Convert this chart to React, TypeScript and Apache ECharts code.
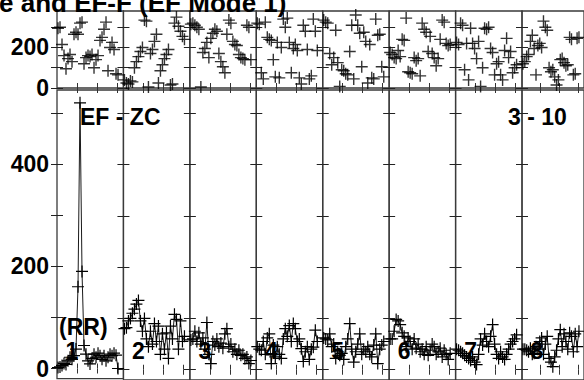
import React, { useEffect, useRef } from "react";
import * as echarts from "echarts";

// Segment labels (one column per segment)
const segmentLabels = ["1", "2", "3", "4", "5", "6", "7", "8"];

// Top panel: phase-like scatter values per segment (31 samples each)
const phase1 = [295, 300, 215, 160, 95, 145, 165, 130, 265, 275, 265, 320, 325, 120, 150, 160, 155, 165, 100, 140, 160, 235, 250, 290, 325, 85, 200, 225, 190, 70, 65];
const phase2 = [40, 25, 20, 35, 30, 100, 130, 155, 180, 200, 335, 330, 5, 170, 190, 230, 265, 25, 85, 115, 145, 165, 190, 15, 20, 320, 350, 305, 280, 255, 240];
const phase3 = [315, 320, 310, 300, 290, 5, 175, 195, 225, 150, 245, 270, 290, 280, 170, 130, 105, 75, 265, 335, 320, 230, 215, 210, 165, 150, 145, 140, 310, 300, 140];
const phase4 = [320, 315, 75, 45, 325, 250, 240, 235, 140, 55, 225, 50, 200, 340, 300, 345, 225, 75, 195, 215, 185, 50, 20, 310, 280, 190, 45, 60, 340, 280, 185];
const phase5 = [335, 325, 320, 170, 115, 150, 285, 125, 8, 90, 85, 70, 65, 180, 310, 45, 360, 310, 270, 105, 275, 230, 25, 215, 50, 45, 340, 260, 265, 105, 55];
const phase6 = [175, 165, 150, 145, 185, 155, 240, 235, 345, 80, 75, 70, 150, 135, 145, 60, 320, 290, 275, 180, 255, 170, 150, 110, 145, 240, 335, 325, 220, 210, 215];
const phase7 = [225, 215, 320, 310, 90, 220, 40, 295, 220, 195, 145, 230, 8, 100, 295, 290, 300, 195, 175, 65, 120, 130, 65, 40, 185, 245, 150, 180, 75, 100, 115];
const phase8 = [120, 130, 155, 165, 230, 260, 195, 65, 210, 220, 200, 330, 300, 285, 100, 80, 90, 55, 15, 40, 140, 145, 125, 110, 115, 250, 240, 65, 70, 245, 250];

// Bottom panel: amplitude values per segment (31 samples each)
const amp1 = [2, 3, 6, 10, 8, 15, 22, 18, 25, 38, 160, 520, 190, 45, 28, 15, 9, 20, 28, 22, 30, 25, 18, 25, 15, 22, 28, 25, 30, 26, 0];
const amp2 = [80, 82, 95, 100, 110, 118, 128, 135, 95, 75, 100, 60, 45, 75, 50, 90, 55, 85, 30, 70, 40, 72, 22, 85, 60, 108, 98, 40, 95, 55, 65];
const amp3 = [58, 60, 75, 55, 72, 50, 62, 40, 92, 30, 12, 55, 48, 60, 45, 52, 42, 70, 80, 45, 50, 35, 40, 30, 38, 28, 30, 22, 25, 12, 18];
const amp4 = [45, 40, 38, 55, 30, 62, 70, 12, 48, 25, 45, 30, 22, 60, 80, 65, 86, 55, 90, 80, 55, 60, 41, 16, 35, 45, 20, 40, 44, 77, 55];
const amp5 = [62, 60, 58, 70, 45, 50, 22, 35, 28, 32, 20, 45, 60, 90, 40, 15, 35, 50, 70, 30, 40, 35, 45, 30, 25, 48, 70, 12, 40, 48, 55];
const amp6 = [60, 60, 75, 98, 95, 88, 72, 65, 45, 62, 55, 40, 60, 42, 50, 35, 40, 30, 45, 28, 38, 50, 45, 30, 35, 42, 25, 38, 30, 20, 32];
const amp7 = [40, 38, 35, 32, 28, 25, 22, 18, 25, 15, 10, 30, 60, 48, 70, 55, 45, 65, 88, 50, 30, 22, 35, 25, 20, 30, 40, 50, 55, 60, 68];
const amp8 = [40, 40, 38, 35, 42, 30, 32, 45, 40, 55, 62, 30, 50, 65, 22, 15, 6, 25, 38, 60, 78, 45, 70, 55, 40, 72, 65, 35, 70, 45, 75];

const phaseSeries = [phase1, phase2, phase3, phase4, phase5, phase6, phase7, phase8];
const ampSeries = [amp1, amp2, amp3, amp4, amp5, amp6, amp7, amp8];

// Tick values and tick labels
const xTicks = [10, 20, 30];
const topTicks = [0, 100, 200, 300];
const topTickLabels = [0, 200];
const bottomTicks = [0, 100, 200, 300, 400, 500];
const bottomTickLabels = [0, 200, 400];

const titleText = "e and EF-F (EF Mode 1)";
const leftNote = "EF - ZC";
const rightNote = "3 - 10";
const rrNote = "(RR)";

const FONT = "'Liberation Sans', Arial, Helvetica, sans-serif";
const CROSS = "path://M0,6L12,6M6,0L6,12";

export default function App() {
  const ref = useRef<HTMLDivElement>(null);

  useEffect(() => {
    if (!ref.current) return;
    const chart = echarts.init(ref.current, null, { renderer: "svg" });

    const LEFT0 = 57;
    const SEG_W = 66.43;
    const nSeg = segmentLabels.length;
    const borderColor = "#3a3a3a";

    const grid: any[] = [];
    const xAxis: any[] = [];
    const yAxis: any[] = [];
    const series: any[] = [];

    const mkX = (g: number, pos: string) => ({
      gridIndex: g,
      type: "value",
      min: 0,
      max: 33.2,
      position: pos,
      axisLine: { show: false },
      axisTick: {
        show: true,
        inside: true,
        length: 5,
        customValues: xTicks,
        lineStyle: { color: "#333", width: 1 },
      },
      axisLabel: { show: false, customValues: xTicks },
      splitLine: { show: false },
    });

    const mkY = (
      g: number,
      pos: string,
      min: number,
      max: number,
      showLabel: boolean,
      ticks: number[],
      labels: number[]
    ) => ({
      gridIndex: g,
      type: "value",
      min,
      max,
      position: pos,
      axisLine: { show: false },
      axisTick: {
        show: true,
        inside: true,
        length: 6,
        customValues: ticks,
        lineStyle: { color: "#222", width: 1 },
      },
      axisLabel: {
        show: showLabel,
        customValues: labels,
        margin: 8,
        fontSize: 23,
        fontWeight: "bold",
        fontFamily: FONT,
        color: "#000",
      },
      splitLine: { show: false },
    });

    for (let row = 0; row < 2; row++) {
      for (let i = 0; i < nSeg; i++) {
        const g = row * nSeg + i;
        const isTop = row === 0;
        grid.push({
          left: LEFT0 + i * SEG_W,
          top: isTop ? 11 : 90,
          width: SEG_W,
          height: isTop ? 77 : 290,
          show: true,
          borderColor,
          borderWidth: 1.3,
          backgroundColor: "transparent",
        });
        xAxis.push(mkX(g, "bottom"));
        xAxis.push(mkX(g, "top"));
        const min = isTop ? 0 : -20;
        const max = isTop ? 380 : 545;
        const ticks = isTop ? topTicks : bottomTicks;
        const labels = isTop ? topTickLabels : bottomTickLabels;
        yAxis.push(mkY(g, "left", min, max, i === 0, ticks, labels));
        yAxis.push(mkY(g, "right", min, max, false, ticks, labels));

        if (isTop) {
          series.push({
            type: "scatter",
            xAxisIndex: 2 * g,
            yAxisIndex: 2 * g,
            data: phaseSeries[i].map((v, k) => [k + 0.5, v]),
            symbol: CROSS,
            symbolSize: 12,
            itemStyle: { color: "transparent", borderColor: "#000", borderWidth: 1.4 },
            silent: true,
          });
        } else {
          series.push({
            type: "line",
            xAxisIndex: 2 * g,
            yAxisIndex: 2 * g,
            data: ampSeries[i].map((v, k) => [k + 0.5, v]),
            showSymbol: true,
            symbol: CROSS,
            symbolSize: 12,
            lineStyle: { color: "#1a1a1a", width: 1 },
            itemStyle: { color: "transparent", borderColor: "#000", borderWidth: 1.2 },
            silent: true,
          });
        }
      }
    }

    const textStyle = (text: string, size: number, align: string) => ({
      text,
      fill: "#000",
      font: `bold ${size}px ${FONT}`,
      textAlign: align,
      verticalAlign: "middle",
    });

    const graphic: any[] = [
      { type: "text", x: -1, y: 3, z: 100, style: textStyle(titleText, 26, "left") },
      { type: "text", x: 80, y: 117, z: 100, style: textStyle(leftNote, 23, "left") },
      { type: "text", x: 508, y: 117, z: 100, style: textStyle(rightNote, 23, "left") },
      { type: "text", x: 59, y: 327, z: 100, style: textStyle(rrNote, 23, "left") },
    ];
    segmentLabels.forEach((lab, i) => {
      graphic.push({
        type: "text",
        x: LEFT0 + i * SEG_W + 15,
        y: 351,
        z: 100,
        style: textStyle(lab, 23, "center"),
      });
    });

    chart.setOption({
      animation: false,
      backgroundColor: "#fff",
      grid,
      xAxis,
      yAxis,
      series,
      graphic,
    });

    return () => chart.dispose();
  }, []);

  return (
    <div
      ref={ref}
      style={{ position: "fixed", left: 0, top: 0, width: 584, height: 380 }}
    />
  );
}
